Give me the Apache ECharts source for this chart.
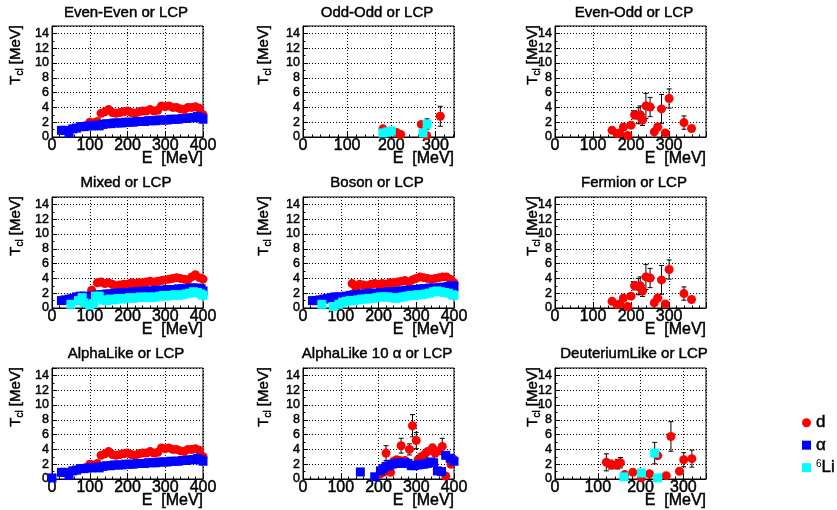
<!DOCTYPE html>
<html><head><meta charset="utf-8">
<script src="https://cdn.jsdelivr.net/npm/echarts@6/dist/echarts.min.js"></script>
<style>html,body{margin:0;padding:0;background:#fff}#c{width:837px;height:510px}</style>
</head><body><div id="c"></div>
<script>
// ---------------- data ----------------
const panelTitles = ['Even-Even or LCP','Odd-Odd or LCP','Even-Odd or LCP',
  'Mixed or LCP','Boson or LCP','Fermion or LCP',
  'AlphaLike or LCP','AlphaLike 10 \u03b1 or LCP','DeuteriumLike or LCP'];
const xMaxes = [400,342,397,400,400,397,400,400,353];
const yMax = 15;
const xTickLabels = [0,100,200,300,400];
const yTickLabels = [0,2,4,6,8,10,12,14];
const seriesNames = ['d','\u03b1','\u2076Li'];

// [E, T, error]
const eeD = [[100,2.0],[110,1.9],[120,2.1],[130,3.2],[140,3.4],[150,3.7],[160,3.3],[170,3.2],[180,3.3],[190,3.4],[200,3.5],[210,3.3],[220,3.2],[230,3.4],[240,3.5],[250,3.5],[260,3.7],[270,3.5],[280,3.6],[290,4.2],[300,4.1],[310,4.2],[320,4.0],[330,4.0],[340,3.8],[350,3.7],[360,4.0],[370,4.0],[380,4.1],[390,3.9],[400,3.0]];
const eeA = [[25,0.9],[35,0.9],[45,0.5],[55,1.1],[65,1.2],[75,1.4],[85,1.4],[95,1.5],[105,1.5],[115,1.6],[125,1.5],[135,1.7],[145,1.8],[155,1.8],[165,1.9],[175,1.9],[185,1.9],[195,2.0],[205,2.0],[215,2.0],[225,2.1],[235,2.1],[245,2.1],[255,2.2],[265,2.2],[275,2.2],[285,2.3],[295,2.3],[305,2.3],[315,2.4],[325,2.4],[335,2.4],[345,2.5],[355,2.5],[365,2.6],[375,2.6],[385,2.8],[395,2.6],[400,2.4]];

const ooD = [[181,1.1],[212,0.6],[221,0.35],[268,1.7],[280,0.2],[311,2.8,1.35]];
const ooL = [[181,0.55],[192,0.7],[200,0.8],[272,0.55],[281,1.75,0.7]];

const eoD = [[150,0.9],[163,0.45],[170,0.55],[180,1.35],[191,0.2],[200,1.6],[209,3.0,0.55],[219,2.9,1.1],[224,3.0,1.2],[230,2.3,0.75],[239,4.2,1.7],[250,4.05,1.3],[261,0.7],[270,1.35],[280,3.8,1.95],[290,0.55],[300,5.2,1.3],[339,1.95,0.9],[359,1.15]];

const mxD = [[105,2.4],[120,3.4],[130,3.5],[140,3.3],[150,3.4],[160,3.2],[170,3.0],[180,3.1],[190,3.2],[200,3.2],[210,3.4],[220,3.3],[230,3.4],[240,3.4],[250,3.5],[260,3.6],[270,3.5],[280,3.6],[290,3.7],[300,3.8],[310,3.9],[320,4.0],[330,4.1],[340,4.0],[350,3.9],[360,3.8],[370,4.2],[380,4.5],[390,4.1],[400,3.9]];
const mxA = [[25,1.0],[35,1.1],[45,1.2],[55,1.3],[65,1.5],[75,1.6],[85,1.6],[95,1.5],[105,1.6],[115,1.7],[125,1.8],[135,1.8],[145,1.9],[155,1.9],[165,2.0],[175,2.0],[185,2.1],[195,2.1],[205,2.1],[215,2.2],[225,2.2],[235,2.2],[245,2.3],[255,2.3],[265,2.3],[275,2.4],[285,2.4],[295,2.4],[305,2.5],[315,2.5],[325,2.5],[335,2.6],[345,2.6],[355,2.6],[365,2.7],[375,2.7],[385,2.7],[395,2.6],[400,2.3]];
const mxL = [[50,0.5],[70,1.0],[80,1.4],[85,0.7],[100,0.4],[110,0.6],[115,1.6],[125,1.6],[135,1.1],[145,1.0],[155,1.2],[165,1.1],[175,1.3],[185,1.2],[195,1.3],[205,1.4],[215,1.3],[225,1.4],[235,1.5],[245,1.4],[255,1.5],[265,1.4],[275,1.5],[285,1.6],[295,1.7],[305,1.6],[315,1.7],[325,1.8],[335,1.7],[345,1.8],[355,1.9],[365,2.0],[375,2.2],[385,2.1],[395,1.9],[400,1.7]];

const boD = [[130,3.3],[140,2.7],[150,3.2],[160,3.1],[170,3.0],[180,3.2],[190,3.3],[200,3.2],[210,3.3],[220,3.2],[230,3.4],[240,3.4],[250,3.5],[260,3.6],[270,3.7],[280,3.5],[290,3.8],[300,4.0],[310,4.2],[320,4.1],[330,4.0],[340,3.9],[350,4.0],[360,4.1],[370,4.2],[380,4.2],[390,3.9],[400,3.4]];
const boA = [[25,1.0],[35,1.0],[45,1.1],[55,1.2],[65,1.3],[75,1.4],[85,1.5],[95,1.5],[105,1.5],[115,1.6],[125,1.7],[135,1.8],[145,1.8],[155,1.9],[165,1.9],[175,2.0],[185,2.0],[195,2.0],[205,2.1],[215,2.1],[225,2.2],[235,2.2],[245,2.2],[255,2.3],[265,2.3],[275,2.4],[285,2.4],[295,2.5],[305,2.5],[315,2.6],[325,2.6],[335,2.7],[345,2.7],[355,2.7],[365,2.8],[375,2.8],[385,2.9],[395,3.0],[400,2.9]];
const boL = [[50,0.5],[80,0.2],[95,0.5],[105,0.8],[115,0.9],[125,1.0],[135,1.0],[145,1.1],[155,1.2],[165,1.2],[175,1.3],[185,1.3],[195,1.4],[205,1.5],[215,1.5],[225,1.5],[235,1.4],[245,1.3],[255,1.4],[265,1.5],[275,1.6],[285,1.7],[295,1.7],[305,1.8],[315,1.8],[325,1.9],[335,2.0],[345,2.2],[355,2.3],[365,2.2],[375,2.1],[385,2.0],[395,1.8],[400,1.7]];

const feD = [[150,0.9],[163,0.45],[170,0.55],[180,1.35],[191,0.2],[200,1.6],[209,3.0,0.55],[219,2.9,1.1],[224,3.0,1.2],[230,2.3,0.75],[239,4.2,1.7],[250,4.05,1.3],[261,0.7],[270,1.35],[280,3.8,1.95],[290,0.55],[300,5.2,1.3],[339,1.95,0.9],[359,1.15]];

const alD = [[100,2.0],[110,1.9],[120,2.1],[130,3.2],[140,3.4],[150,3.7],[160,3.3],[170,3.2],[180,3.3],[190,3.4],[200,3.5],[210,3.3],[220,3.2],[230,3.4],[240,3.5],[250,3.5],[260,3.7],[270,3.5],[280,3.6],[290,4.2],[300,4.1],[310,4.2],[320,4.0],[330,4.0],[340,3.8],[350,3.7],[360,4.0],[370,4.0],[380,4.1],[390,3.9],[400,3.0]];
const alA = [[0,0.15],[25,0.9],[35,0.9],[45,0.5],[55,1.1],[65,1.2],[75,1.4],[85,1.4],[95,1.5],[105,1.5],[115,1.6],[125,1.5],[135,1.7],[145,1.8],[155,1.8],[165,1.9],[175,1.9],[185,1.9],[195,2.0],[205,2.0],[215,2.0],[225,2.1],[235,2.1],[245,2.1],[255,2.2],[265,2.2],[275,2.2],[285,2.3],[295,2.3],[305,2.3],[315,2.4],[325,2.4],[335,2.4],[345,2.5],[355,2.5],[365,2.6],[375,2.6],[385,2.8],[395,2.6],[400,2.4]];

const a10D = [[205,0.7],[213,0.9],[220,3.5,1.0],[232,0.9],[240,2.4],[248,2.6],[256,2.5],[260,4.5,1.0],[270,2.5],[282,4.0,0.75],[290,7.2,1.5],[300,5.2,1.1],[305,2.6],[313,3.0],[322,3.3],[330,3.7],[343,4.2,0.5],[350,3.5,0.5],[360,3.8],[369,4.4,1.1],[378,0.4],[392,2.0],[398,2.7]];
const a10A = [[152,0.95],[190,0.3],[205,1.1],[212,1.4],[220,1.7],[228,1.8],[236,2.0],[245,2.1],[253,2.2],[262,2.1],[270,2.2],[278,2.1],[287,1.8],[295,1.8],[304,1.9],[312,2.0],[320,2.0],[329,2.1],[338,2.3],[346,2.2],[356,1.1],[367,1.0],[378,3.2],[390,2.8],[400,2.4]];

const dlD = [[120,2.25,1.15],[130,1.95,0.6],[137,1.9],[146,2.0,0.65],[153,2.2,0.7],[163,0.6],[182,0.9],[202,0.15],[221,0.7],[240,3.15],[260,0.45],[271,5.75,2.0],[291,1.05],[301,2.6,0.95],[320,2.75,1.15]];
const dlL = [[161,0.3],[202,0.8],[233,3.5,1.45],[240,0.15]];

const panelData = [
  [eeD, eeA, null], [ooD, null, ooL], [eoD, null, null],
  [mxD, mxA, mxL], [boD, boA, boL], [feD, null, null],
  [alD, alA, null], [a10D, a10A, null], [dlD, null, dlL]
];

// ---------------- layout / style ----------------
const FONT = "'Liberation Sans', Arial, Helvetica, sans-serif";
const colLeft = [52, 303, 555], rowTop = [26, 197, 368], PW = 151, PH = 111;
const titleX = [126, 377, 634], titleY = [13, 183, 354];
const yTitleX = [16, 264, 533];
const colors = ['#ff0000', '#0000ff', '#00ffff'];
const symbols = ['circle', 'rect', 'rect'];
const BOLDEN = 0.45;

const cv = document.createElement('canvas').getContext('2d');
function tw(t, s) { cv.font = s + 'px ' + FONT; return cv.measureText(t).width; }
function txt(x, y, text, size, align, extra) {
  return Object.assign({type: 'text', x: x, y: y, silent: true,
    style: {text: text, fill: '#000', stroke: '#000', lineWidth: BOLDEN, font: size + 'px ' + FONT,
      align: align, verticalAlign: 'middle'}}, extra || {});
}

const grids = [], xAxes = [], yAxes = [], series = [], graphics = [];
panelTitles.forEach((t, i) => {
  const c = i % 3, r = Math.floor(i / 3);
  grids.push({left: colLeft[c], top: rowTop[r], width: PW, height: PH, show: true,
    borderColor: '#000', borderWidth: 1, backgroundColor: 'transparent', outerBoundsMode: 'none'});
  xAxes.push({type: 'value', gridIndex: i, min: 0, max: xMaxes[i], interval: 100,
    axisLine: {show: true, onZero: false, lineStyle: {color: '#000', width: 1}},
    axisTick: {show: true, inside: true, length: 5, lineStyle: {color: '#000'}},
    minorTick: {show: true, splitNumber: 5, length: 2.5, lineStyle: {color: '#000'}},
    axisLabel: {color: '#000', fontSize: 16, fontFamily: FONT, margin: 1,
      textBorderColor: '#000', textBorderWidth: BOLDEN,
      formatter: v => xTickLabels.includes(v) ? String(v) : ''},
    splitLine: {show: true, lineStyle: {color: '#000', width: 1, type: [1, 2]}}});
  yAxes.push({type: 'value', gridIndex: i, min: 0, max: yMax, interval: 2,
    axisLine: {show: true, onZero: false, lineStyle: {color: '#000', width: 1}},
    axisTick: {show: true, inside: true, length: 5, lineStyle: {color: '#000'}},
    minorTick: {show: true, splitNumber: 2, length: 2.5, lineStyle: {color: '#000'}},
    axisLabel: {color: '#000', fontSize: 12.5, fontFamily: FONT, margin: 3,
      textBorderColor: '#000', textBorderWidth: BOLDEN,
      formatter: v => yTickLabels.includes(v) ? String(v) : ''},
    splitLine: {show: true, lineStyle: {color: '#000', width: 1, type: [1, 2]}}});

  panelData[i].forEach((arr, k) => {
    if (!arr) return;
    series.push({type: 'scatter', name: seriesNames[k], xAxisIndex: i, yAxisIndex: i,
      symbol: symbols[k], symbolSize: 9, clip: false, z: 3 + k,
      itemStyle: {color: colors[k], opacity: 1}, emphasis: {disabled: true},
      data: arr.map(p => [p[0], p[1]])});
    const errs = arr.filter(p => p[2] > 0);
    if (errs.length) {
      series.push({type: 'custom', xAxisIndex: i, yAxisIndex: i, z: 2, silent: true,
        data: errs, encode: {x: 0, y: 1},
        renderItem: (params, api) => {
          const x = api.value(0), y = api.value(1), e = api.value(2);
          const a = api.coord([x, y + e]), b = api.coord([x, Math.max(0, y - e)]);
          const st = {stroke: '#000', lineWidth: 1};
          return {type: 'group', children: [
            {type: 'line', shape: {x1: a[0], y1: a[1], x2: b[0], y2: b[1]}, style: st},
            {type: 'line', shape: {x1: a[0] - 2.5, y1: a[1], x2: a[0] + 2.5, y2: a[1]}, style: st},
            {type: 'line', shape: {x1: b[0] - 2.5, y1: b[1], x2: b[0] + 2.5, y2: b[1]}, style: st}
          ]};
        }});
    }
  });

  // panel title
  graphics.push(txt(titleX[c], titleY[r], t, 15, 'center'));
  // x-axis title
  graphics.push(txt(colLeft[c] + PW, rowTop[r] + PH + 22, 'E  [MeV]', 16, 'right'));
  // y-axis title T_cl [MeV], rotated
  const wT = tw('T', 15), wS = tw('cl', 10), wSp = tw(' ', 15), wM = tw('[MeV]', 15);
  const total = wT + wS + wSp + wM;
  graphics.push({type: 'group', x: yTitleX[c], y: rowTop[r] - 1 + total, rotation: Math.PI / 2, silent: true,
    children: [
      txt(0, 0, 'T', 15, 'left'),
      txt(wT, 4, 'cl', 10, 'left'),
      txt(wT + wS + wSp, 0, '[MeV]', 15, 'left')
    ]});
});

const chart = echarts.init(document.getElementById('c'), null, {renderer: 'canvas'});
chart.setOption({
  animation: false,
  backgroundColor: '#fff',
  grid: grids, xAxis: xAxes, yAxis: yAxes, series: series,
  legend: {orient: 'vertical', left: 802, top: 414, padding: 0, itemWidth: 9, itemHeight: 9, itemGap: 5,
    selectedMode: false,
    data: [{name: seriesNames[0], icon: 'circle'}, {name: seriesNames[1], icon: 'rect'}, {name: seriesNames[2], icon: 'rect'}],
    formatter: n => n === seriesNames[2] ? '{s|6}{n|Li}' : '{n|' + n + '}',
    textStyle: {color: '#000', fontFamily: FONT, fontSize: 16,
      rich: {n: {fontSize: 17, fontFamily: FONT, color: '#000', textBorderColor: '#000', textBorderWidth: BOLDEN},
             s: {fontSize: 10, fontFamily: FONT, color: '#000', verticalAlign: 'top', lineHeight: 16}}}},
  graphic: graphics
});
</script></body></html>
